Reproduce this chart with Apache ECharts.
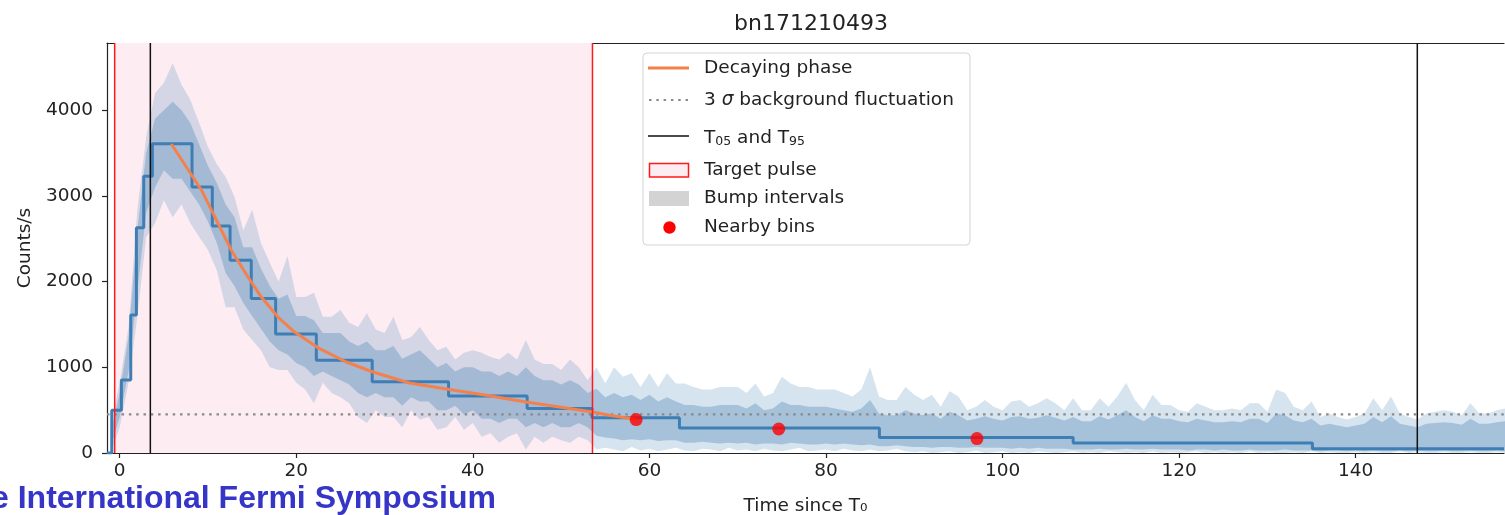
<!DOCTYPE html>
<html><head><meta charset="utf-8">
<script src="https://cdn.jsdelivr.net/npm/echarts@6/dist/echarts.min.js"></script>
<style>html,body{margin:0;padding:0;background:#fff}#c{width:1505px;height:515px}</style>
</head><body><div id="c"></div>
<script>
// ---------- data ----------
const titleText = 'bn171210493';
const xTicks = [0, 20, 40, 60, 80, 100, 120, 140];
const yTicks = [0, 1000, 2000, 3000, 4000];
const xRange = [-1.44, 156.8];
const yRange = [0, 4785];

// light-curve noise envelope, one sample per second starting at t = -1
const noiseStart = -1;
const noiseStep = 1;
const noiseTop = [
  350, 820, 1470, 2840, 3690, 4200, 4320, 4550, 4300, 4120,
  3850, 3570, 3370, 3220, 2990, 2600, 2840, 2450, 2220, 2000,
  2300, 1820, 1820, 1870, 1590, 1590, 1670, 1520, 1470, 1630,
  1440, 1400, 1590, 1320, 1350, 1470, 1320, 1200, 1240, 1090,
  1170, 1200, 1170, 1120, 1090, 1170, 1090, 1320, 1090, 1040,
  1040, 970, 1090, 1000, 850, 1000, 810, 1000, 890, 930,
  770, 930, 770, 930, 810, 810, 770, 740, 740, 770,
  770, 770, 700, 810, 660, 700, 890, 810, 770, 770,
  740, 740, 740, 700, 660, 740, 1000, 660, 620, 620,
  770, 680, 620, 680, 540, 720, 660, 500, 540, 620,
  540, 500, 600, 620, 540, 580, 640, 580, 500, 640,
  500, 500, 640, 540, 660, 820, 620, 500, 680, 560,
  560, 500, 480, 580, 540, 500, 500, 520, 500, 580,
  580, 480, 740, 700, 540, 500, 600, 420, 460, 420,
  390, 420, 460, 640, 500, 660, 460, 420, 390, 460,
  480, 500, 480, 440, 580, 460, 460, 500, 520
];
const noiseBottom = [
  0, 300, 820, 1590, 2520, 2680, 2950, 2750, 2900, 2680,
  2520, 2370, 2130, 1700, 1700, 1440, 1320, 1200, 1000, 970,
  970, 820, 740, 580, 820, 700, 650, 580, 420, 350,
  500, 420, 420, 300, 500, 390, 420, 270, 300, 420,
  270, 350, 190, 230, 120, 190, 230, 40, 190, 120,
  190, 150, 120, 190, 150, 40, 60, 40, 20, 70,
  30, 50, 20, 40, 60, 30, 20, 50, 40, 20,
  60, 30, 40, 20, 50, 30, 20, 40, 60, 20,
  30, 40, 20, 50, 30, 20, 40, 20, 30, 50,
  20, 10, 20, 0, 10, 20, 0, 10, 30, 0,
  10, 20, 0, 10, 0, 20, 10, 0, 10, 20,
  0, 10, 0, 20, 10, 0, 10, 0, 20, 0,
  10, 0, 10, 20, 0, 10, 0, 10, 0, 20,
  0, 10, 0, 0, 10, 0, 20, 0, 10, 0,
  0, 10, 0, 10, 0, 0, 20, 0, 10, 0,
  0, 10, 0, 0, 10, 0, 0, 10, 0
];
const noiseCoreHi = [
  250, 700, 1350, 2600, 3500, 3900, 4000, 4100, 4000, 3850,
  3600, 3350, 3150, 2900, 2750, 2400, 2400, 2150, 1950, 1800,
  1850, 1600, 1600, 1550, 1400, 1400, 1400, 1300, 1250, 1300,
  1200, 1200, 1250, 1100, 1150, 1200, 1100, 1000, 1050, 950,
  1000, 1000, 950, 950, 900, 950, 900, 1000, 900, 850,
  850, 800, 850, 800, 700, 750, 650, 700, 650, 680,
  620, 680, 600, 650, 600, 560, 560, 540, 540, 560,
  560, 560, 520, 580, 500, 520, 600, 560, 560, 540,
  540, 540, 520, 500, 480, 520, 620, 460, 440, 440,
  500, 460, 440, 460, 400, 480, 440, 380, 400, 430,
  400, 380, 420, 430, 400, 410, 440, 410, 380, 420,
  370, 370, 430, 390, 440, 500, 420, 370, 440, 400,
  400, 370, 360, 400, 380, 360, 360, 370, 360, 400,
  400, 350, 460, 440, 380, 360, 400, 320, 340, 320,
  300, 320, 340, 420, 360, 430, 340, 320, 300, 340,
  350, 360, 350, 330, 400, 340, 340, 360, 370
];
const noiseCoreLo = [
  80, 420, 950, 1900, 2800, 3100, 3300, 3200, 3200, 3050,
  2900, 2700, 2450, 2100, 1950, 1750, 1600, 1450, 1300, 1200,
  1150, 1050, 1000, 900, 950, 900, 850, 800, 700, 650,
  700, 650, 650, 550, 650, 600, 600, 500, 500, 550,
  450, 500, 400, 400, 350, 400, 400, 300, 350, 300,
  350, 300, 300, 350, 300, 200, 180, 170, 150, 160,
  150, 160, 140, 150, 150, 120, 120, 130, 120, 110,
  120, 110, 120, 100, 110, 110, 100, 120, 110, 100,
  100, 110, 100, 110, 100, 90, 100, 80, 80, 90,
  80, 70, 70, 60, 70, 70, 60, 60, 70, 60,
  60, 60, 50, 60, 50, 60, 50, 50, 50, 40,
  40, 40, 50, 40, 40, 50, 40, 40, 50, 40,
  40, 40, 30, 40, 40, 30, 40, 30, 30, 40,
  30, 30, 30, 40, 30, 30, 30, 20, 30, 30,
  20, 30, 20, 30, 20, 20, 30, 20, 30, 20,
  20, 30, 20, 20, 30, 20, 20, 30, 20
];

// Bayesian-block step curve (value holds from each time to the next)
const blockT = [-1.44, -0.9, 0.19, 1.25, 1.89, 2.72, 3.7, 8.19, 10.49, 12.5, 14.9, 17.66, 22.27, 28.6, 37.25, 46.15, 53.5, 63.4, 86.05, 108.0, 135.1, 156.8];
const blockV = [0, 500, 852, 1610, 2630, 3230, 3610, 3105, 2650, 2250, 1802, 1389, 1082, 832, 665, 518, 412, 292, 180, 117, 51, 51];

// decaying phase fit
const decayT = [5.85, 9.25, 10.76, 12.64, 14.53, 16.04, 17.92, 19.81, 22.64, 25.66, 28.68, 32.83, 37.36, 41.5, 46.04, 49.8, 53.58, 55.47, 58.5];
const decayV = [3606, 3070, 2758, 2366, 2054, 1820, 1587, 1412, 1218, 1062, 945, 817, 740, 673, 595, 537, 478, 440, 390];

// nearby bins
const nearbyT = [58.5, 74.65, 97.1];
const nearbyV = [390, 280, 168];

const bgLevel = 450;              // 3 sigma background fluctuation
const targetPulse = [-0.57, 53.55];
const t05t95 = [3.47, 146.98];

// ---------- chart ----------
const FONT = 'DejaVu Sans';
const TXT = '#222';
const chart = echarts.init(document.getElementById('c'), null, {renderer: 'canvas'});

function bandItem(hi, lo, fill) {
  return function (params, api) {
    const pts = [];
    for (let i = 0; i < hi.length; i++) pts.push(api.coord([noiseStart + i * noiseStep, hi[i]]));
    for (let i = lo.length - 1; i >= 0; i--) pts.push(api.coord([noiseStart + i * noiseStep, lo[i]]));
    return {type: 'polygon', shape: {points: pts}, style: {fill: fill}, silent: true};
  };
}
function vlineItem(color, width) {
  return function (params, api) {
    const t = api.value(0);
    const p1 = api.coord([t, yRange[1]]);
    const p2 = api.coord([t, yRange[0]]);
    return {type: 'line', shape: {x1: p1[0], y1: p1[1], x2: p2[0], y2: p2[1]},
      style: {stroke: color, lineWidth: width}, silent: true};
  };
}

const legendX = 643, legendY = 53;
const legendRows = [68, 100, 136, 170, 198, 227];
const textStyleL = {fontFamily: FONT, fontSize: 18.5, fill: TXT};

const option = {
  animation: false,
  backgroundColor: '#fff',
  title: {
    text: titleText, left: 806, top: 8, textAlign: 'center',
    textStyle: {fontFamily: FONT, fontSize: 22, fontWeight: 'normal', color: TXT}
  },
  grid: {left: 107, right: 1, top: 43, bottom: 62, containLabel: false, outerBoundsMode: 'none'},
  xAxis: [{
    type: 'value', min: xRange[0], max: xRange[1],
    name: 'Time since T\u2080', nameLocation: 'middle', nameGap: 44,
    nameTextStyle: {fontFamily: FONT, fontSize: 18.5, color: TXT},
    axisLine: {show: true, onZero: false, lineStyle: {color: TXT, width: 1.2}},
    axisTick: {show: true, customValues: xTicks, length: 5, lineStyle: {color: TXT, width: 1.2}},
    axisLabel: {customValues: xTicks, fontFamily: FONT, fontSize: 18.5, color: TXT, margin: 9,
      formatter: v => String(v)},
    splitLine: {show: false}
  }, {
    type: 'value', position: 'top', min: xRange[0], max: xRange[1],
    axisLine: {show: true, onZero: false, lineStyle: {color: TXT, width: 1.2}},
    axisTick: {show: false}, axisLabel: {show: false}, splitLine: {show: false}
  }],
  yAxis: {
    type: 'value', min: yRange[0], max: yRange[1],
    name: 'Counts/s', nameLocation: 'middle', nameGap: 65, nameRotate: 90,
    nameTextStyle: {fontFamily: FONT, fontSize: 18.5, color: TXT},
    axisLine: {show: true, onZero: false, lineStyle: {color: TXT, width: 1.2}},
    axisTick: {show: true, customValues: yTicks, length: 5, lineStyle: {color: TXT, width: 1.2}},
    axisLabel: {customValues: yTicks, fontFamily: FONT, fontSize: 18.5, color: TXT, margin: 14,
      formatter: v => String(v)},
    splitLine: {show: false}
  },
  series: [
    { // target pulse shading
      type: 'custom', z: 1, silent: true,
      data: [[targetPulse[0], targetPulse[1]]],
      renderItem: function (params, api) {
        const a = api.coord([api.value(0), yRange[1]]);
        const b = api.coord([api.value(1), yRange[0]]);
        return {type: 'rect', shape: {x: a[0], y: a[1], width: b[0] - a[0], height: b[1] - a[1]},
          style: {fill: '#fdedf2'}, silent: true};
      }
    },
    {type: 'custom', z: 2, silent: true, data: [[0, 0]], renderItem: bandItem(noiseTop, noiseBottom, 'rgba(70,130,180,0.22)')},
    {type: 'custom', z: 3, silent: true, data: [[0, 0]], renderItem: bandItem(noiseCoreHi, noiseCoreLo, 'rgba(70,130,180,0.34)')},
    { // background level
      type: 'line', z: 4, silent: true, symbol: 'none',
      data: [[xRange[0], bgLevel], [xRange[1], bgLevel]],
      lineStyle: {color: '#8a8a8a', width: 2.2, type: [2.5, 4.8]}
    },
    { // bayesian blocks
      type: 'line', z: 5, silent: true, symbol: 'none', step: 'end',
      data: blockT.map((t, i) => [t, blockV[i]]),
      lineStyle: {color: '#3f7eb5', width: 3}
    },
    { // decaying phase
      type: 'line', z: 6, silent: true, symbol: 'none',
      data: decayT.map((t, i) => [t, decayV[i]]),
      lineStyle: {color: '#f5804c', width: 3}
    },
    {type: 'custom', z: 7, silent: true, data: targetPulse.map(t => [t]), renderItem: vlineItem('#ff1a1a', 1.5)},
    {type: 'custom', z: 7, silent: true, data: t05t95.map(t => [t]), renderItem: vlineItem('#111', 1.5)},
    { // nearby bins
      type: 'scatter', z: 8, silent: true, symbol: 'circle', symbolSize: 13,
      data: nearbyT.map((t, i) => [t, nearbyV[i]]),
      itemStyle: {color: '#ff0000'}
    }
  ],
  graphic: [
    {type: 'rect', z: 100, shape: {x: legendX, y: legendY, width: 327, height: 192, r: 4},
      style: {fill: 'rgba(255,255,255,0.85)', stroke: '#d4d4d4', lineWidth: 1}},
    {type: 'line', z: 101, shape: {x1: 648, y1: legendRows[0], x2: 689, y2: legendRows[0]}, style: {stroke: '#f5804c', lineWidth: 3}},
    {type: 'text', z: 101, x: 704, y: legendRows[0], style: Object.assign({text: 'Decaying phase', verticalAlign: 'middle'}, textStyleL)},
    {type: 'line', z: 101, shape: {x1: 649, y1: legendRows[1], x2: 689, y2: legendRows[1]}, style: {stroke: '#8a8a8a', lineWidth: 2.2, lineDash: [2.5, 4.8]}},
    {type: 'text', z: 101, x: 704, y: legendRows[1], style: {
      text: '{t|3 }{i|\u03c3}{t| background fluctuation}', verticalAlign: 'middle',
      rich: {
        t: {fontFamily: FONT, fontSize: 18.5, fill: TXT},
        i: {fontFamily: FONT, fontSize: 18.5, fontStyle: 'italic', fill: TXT}
      }}},
    {type: 'line', z: 101, shape: {x1: 648, y1: legendRows[2], x2: 689, y2: legendRows[2]}, style: {stroke: '#111', lineWidth: 1.5}},
    {type: 'text', z: 101, x: 704, y: legendRows[2] + 1, style: {
      text: '{t|T}{s|05}{t| and T}{s|95}', verticalAlign: 'middle',
      rich: {
        t: {fontFamily: FONT, fontSize: 18.5, fill: TXT, verticalAlign: 'bottom', lineHeight: 22},
        s: {fontFamily: FONT, fontSize: 12.5, fill: TXT, verticalAlign: 'bottom', lineHeight: 16}
      }}},
    {type: 'rect', z: 101, shape: {x: 649.5, y: 163.5, width: 39, height: 13.5}, style: {fill: '#fdedf2', stroke: '#ff1a1a', lineWidth: 1.5}},
    {type: 'text', z: 101, x: 704, y: legendRows[3], style: Object.assign({text: 'Target pulse', verticalAlign: 'middle'}, textStyleL)},
    {type: 'rect', z: 101, shape: {x: 649, y: 191, width: 40, height: 15}, style: {fill: '#d3d3d3'}},
    {type: 'text', z: 101, x: 704, y: legendRows[4], style: Object.assign({text: 'Bump intervals', verticalAlign: 'middle'}, textStyleL)},
    {type: 'circle', z: 101, shape: {cx: 669.5, cy: legendRows[5] + 0.5, r: 6.2}, style: {fill: '#ff0000'}},
    {type: 'text', z: 101, x: 704, y: legendRows[5], style: Object.assign({text: 'Nearby bins', verticalAlign: 'middle'}, textStyleL)},
    {type: 'text', z: 101, x: -9, y: 483, style: {text: 'e International Fermi Symposium', fontFamily: 'Liberation Sans', fontWeight: 'bold', fontSize: 32, fill: '#3535c8', verticalAlign: 'top'}}
  ]
};
chart.setOption(option);
</script>
</body></html>
